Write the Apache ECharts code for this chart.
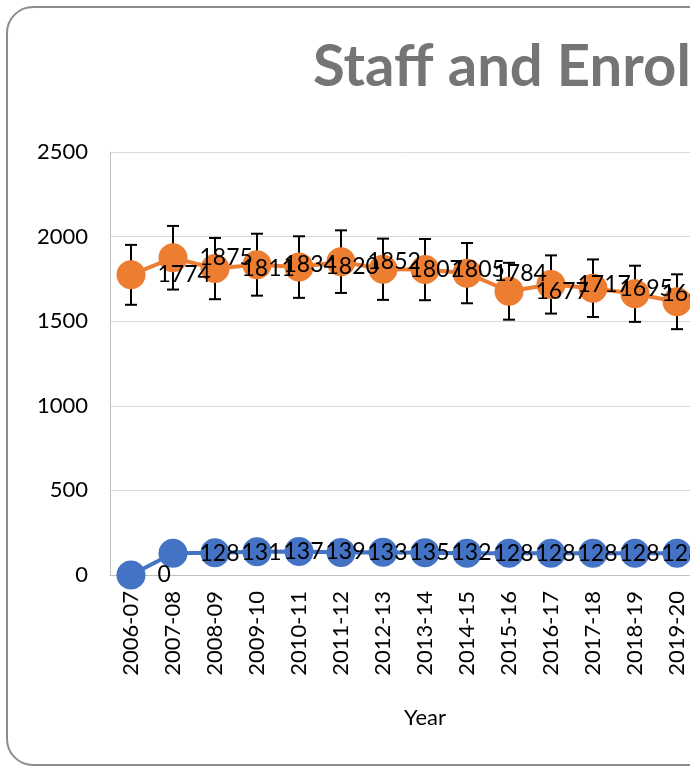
<!DOCTYPE html>
<html>
<head>
<meta charset="utf-8">
<script src="https://cdn.jsdelivr.net/npm/echarts@6/dist/echarts.min.js"></script>
<style>html,body{margin:0;padding:0;background:#fff;}#c{width:690px;height:767px;}</style>
</head>
<body>
<div id="c"></div>
<script>
const categories = ['2006-07','2007-08','2008-09','2009-10','2010-11','2011-12','2012-13','2013-14','2014-15','2015-16','2016-17','2017-18','2018-19','2019-20','2020-21'];
const enrolment = [1774,1875,1811,1834,1820,1852,1807,1805,1784,1677,1717,1695,1662,1615,null];
const enrolmentError = [177,188,181,183,182,185,181,181,178,168,172,170,166,162,null];
const staff = [0,128,131,137,139,133,135,132,128,128,128,128,128,128,null];
const yTicks = [0,500,1000,1500,2000,2500];

const FONT = 'Lato';
const chart = echarts.init(document.getElementById('c'), null, {renderer:'canvas'});
const errData = categories.map((c,i)=> enrolment[i]==null ? null : [i, enrolment[i]-enrolmentError[i], enrolment[i]+enrolmentError[i]]).filter(d=>d);

chart.setOption({
  animation:false,
  backgroundColor:'#fff',
  textStyle:{fontFamily:FONT},
  graphic:[
    {type:'rect', shape:{x:7,y:7,width:900,height:758,r:26}, style:{fill:'none',stroke:'#8c8c8c',lineWidth:2}, z:-10},
    {type:'text', left:313, top:38, style:{text:'Staff and Enrolment', font:'bold 58px Lato', fill:'#757575'}}
  ],
  grid:{left:110, top:152, width:630, bottom:192, containLabel:false, outerBoundsMode:'none'},
  xAxis:{
    type:'category', data:categories, boundaryGap:true,
    name:'Year', nameLocation:'middle', nameGap:132,
    nameTextStyle:{fontSize:22, color:'#000', fontFamily:FONT},
    axisLine:{lineStyle:{color:'#bfbfbf', width:1}},
    axisTick:{show:false},
    axisLabel:{rotate:90, fontSize:22, color:'#000', margin:16, fontFamily:FONT, interval:0}
  },
  yAxis:{
    type:'value', min:yTicks[0], max:yTicks[yTicks.length-1], interval:500,
    axisLine:{show:true, lineStyle:{color:'#bfbfbf', width:1}},
    axisTick:{show:false},
    splitLine:{lineStyle:{color:'#d9d9d9', width:1}},
    axisLabel:{fontSize:22, color:'#000', margin:22, fontFamily:FONT, formatter:function(v){return String(v);}}
  },
  series:[
    {
      type:'custom', name:'err', z:1, data:errData,
      renderItem:function(params, api){
        const x = api.value(0);
        const lo = api.coord([x, api.value(1)]);
        const hi = api.coord([x, api.value(2)]);
        const cw = 6;
        const st = {stroke:'#000', lineWidth:2};
        return {type:'group', children:[
          {type:'line', shape:{x1:lo[0],y1:lo[1],x2:hi[0],y2:hi[1]}, style:st},
          {type:'line', shape:{x1:lo[0]-cw,y1:lo[1],x2:lo[0]+cw,y2:lo[1]}, style:st},
          {type:'line', shape:{x1:hi[0]-cw,y1:hi[1],x2:hi[0]+cw,y2:hi[1]}, style:st}
        ]};
      }
    },
    {
      type:'line', name:'Enrolment', data:enrolment, z:3,
      symbol:'circle', symbolSize:29,
      lineStyle:{color:'#ED7D31', width:4},
      itemStyle:{color:'#ED7D31'},
      label:{show:true, position:'right', distance:12, fontSize:23, color:'#000', fontFamily:FONT}
    },
    {
      type:'line', name:'Staff', data:staff, z:3,
      symbol:'circle', symbolSize:29,
      lineStyle:{color:'#4472C4', width:4},
      itemStyle:{color:'#4472C4'},
      label:{show:true, position:'right', distance:12, fontSize:23, color:'#000', fontFamily:FONT}
    }
  ]
});
</script>
</body>
</html>
